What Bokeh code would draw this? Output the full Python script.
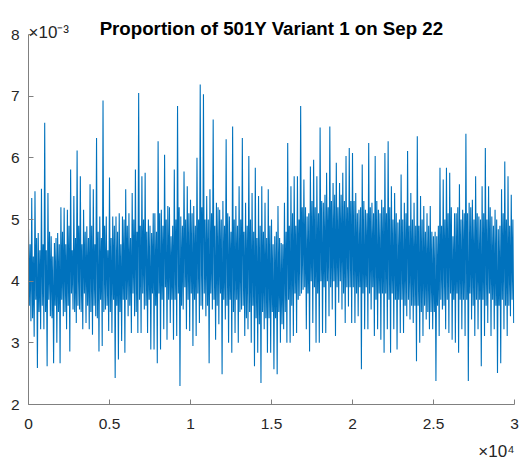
import numpy as np
from bokeh.plotting import figure
from bokeh.models import Range1d, FixedTicker, Label, Title
from bokeh.embed import file_html
from bokeh.resources import INLINE

# ---- data (proportion, in units of 1e-3) ----
title_text = "Proportion of 501Y Variant 1 on Sep 22"
x_ticks = [0, 5000, 10000, 15000, 20000, 25000, 30000]
x_tick_labels = ["0", "0.5", "1", "1.5", "2", "2.5", "3"]
y_ticks = [2, 3, 4, 5, 6, 7, 8]
y_tick_labels = ["2", "3", "4", "5", "6", "7", "8"]
sample_step = 50  # samples between successive read-off points

# upper excursions (spike tops), one per 200-sample block
peak_high = [
    4.85, 5.35, 5.46, 4.78, 5.50, 6.57, 5.43, 4.73, 4.62, 4.78,
    5.20, 5.19, 5.16, 5.81, 5.38, 6.12, 5.70, 5.16, 4.89, 5.57,
    5.49, 6.32, 5.05, 6.93, 5.05, 5.68, 5.05, 5.05, 5.10, 5.05,
    5.49, 5.10, 5.43, 5.81, 7.05, 5.70, 5.76, 5.00, 4.78, 5.10,
    6.27, 5.16, 6.05, 5.22, 4.73, 5.81, 6.84, 5.05, 5.78, 5.54,
    5.32, 5.22, 6.00, 7.19, 7.03, 5.38, 5.49, 6.62, 5.27, 5.16,
    5.30, 6.30, 5.05, 6.51, 5.22, 5.54, 6.32, 5.27, 6.03, 5.43,
    5.84, 5.38, 5.54, 5.27, 5.49, 5.00, 4.73, 5.22, 4.62, 5.27,
    6.24, 5.54, 5.70, 5.70, 6.84, 5.65, 5.05, 5.86, 5.97, 5.70,
    6.49, 5.27, 5.76, 6.51, 5.59, 5.92, 5.59, 5.76, 6.03, 6.16,
    6.08, 5.43, 5.16, 5.89, 5.16, 6.24, 5.27, 6.03, 5.16, 5.32,
    6.08, 6.27, 5.54, 5.43, 4.95, 5.73, 5.27, 6.11, 5.43, 5.27,
    6.35, 5.38, 5.22, 5.10, 5.22, 4.73, 4.73, 5.84, 5.65, 5.84,
    5.76, 4.73, 5.10, 5.57, 5.16, 6.39, 5.27, 5.32, 5.70, 5.05,
    5.54, 6.16, 5.54, 5.05, 5.16, 4.84, 5.49, 5.94, 5.70, 5.40,
]
# lower edge of the dense band, one per block
band_lower = [
    3.6, 3.4, 3.7, 3.5, 3.6, 3.5, 3.7, 3.4, 3.6, 3.5,
    3.7, 3.5, 3.6, 3.8, 3.5, 3.6, 3.5, 3.8, 3.6, 3.5,
    3.6, 3.4, 3.7, 3.5, 3.6, 3.5, 3.7, 3.6, 3.5, 3.7,
    3.7, 3.6, 3.8, 3.5, 3.7, 3.8, 3.6, 3.7, 3.8, 3.6,
    3.8, 3.7, 3.9, 3.7, 3.7, 3.7, 3.8, 3.6, 3.9, 3.7,
    3.8, 3.7, 3.8, 3.6, 3.8, 3.6, 3.8, 3.7, 3.6, 3.8,
    3.7, 3.6, 3.7, 3.5, 3.7, 3.5, 3.6, 3.4, 3.5, 3.6,
    3.4, 3.3, 3.5, 3.4, 3.4, 3.5, 3.4, 3.5, 3.3, 3.5,
    3.7, 3.6, 3.8, 3.7, 3.8, 3.9, 3.8, 4.0, 3.9, 3.8,
    4.0, 3.9, 4.0, 3.9, 4.0, 3.9, 4.0, 3.8, 3.9, 3.9,
    3.9, 3.8, 3.9, 3.8, 3.9, 3.8, 3.9, 3.7, 3.8, 3.8,
    3.8, 3.7, 3.8, 3.7, 3.7, 3.7, 3.6, 3.7, 3.6, 3.6,
    3.6, 3.5, 3.6, 3.5, 3.5, 3.5, 3.6, 3.7, 3.6, 3.7,
    3.8, 3.7, 3.8, 3.7, 3.7, 3.7, 3.8, 3.6, 3.7, 3.7,
    3.7, 3.6, 3.8, 3.7, 3.6, 3.6, 3.7, 3.6, 3.6, 3.7,
]
# upper edge of the dense band, one per block
band_upper = [
    4.6, 4.4, 4.7, 4.5, 4.6, 4.5, 4.8, 4.4, 4.7, 4.6,
    4.8, 4.6, 4.9, 4.5, 4.7, 4.9, 4.6, 4.8, 4.7, 4.9,
    4.6, 4.8, 4.7, 4.9, 4.5, 4.7, 4.9, 4.8, 4.6, 5.0,
    4.9, 4.7, 5.0, 4.8, 4.9, 5.0, 4.8, 4.9, 5.1, 4.8,
    5.1, 4.9, 5.0, 5.2, 4.9, 5.0, 5.2, 4.9, 5.0, 5.1,
    5.1, 4.9, 5.0, 5.2, 5.0, 5.0, 5.1, 4.9, 5.2, 5.0,
    4.9, 5.1, 4.8, 5.0, 4.9, 5.0, 4.8, 4.9, 5.0, 4.8,
    4.7, 4.9, 4.8, 4.7, 4.9, 4.6, 4.8, 4.7, 4.6, 4.8,
    4.9, 5.1, 4.9, 5.0, 5.2, 5.2, 5.1, 5.3, 5.2, 5.1,
    5.3, 5.4, 5.2, 5.3, 5.4, 5.2, 5.4, 5.3, 5.2, 5.3,
    5.3, 5.1, 5.2, 5.3, 5.1, 5.2, 5.1, 5.3, 5.1, 5.2,
    5.1, 5.2, 5.0, 5.1, 5.0, 5.0, 5.1, 4.9, 5.0, 4.9,
    4.9, 5.0, 4.8, 4.9, 4.8, 4.8, 4.9, 4.9, 5.0, 5.1,
    5.2, 5.1, 5.2, 5.0, 5.1, 5.1, 5.2, 5.0, 5.1, 5.0,
    5.1, 5.0, 5.2, 4.9, 5.0, 4.9, 5.1, 5.0, 4.9, 5.0,
]
# lower excursions (spike bottoms), one per block
trough_low = [
    3.35, 3.10, 2.59, 3.22, 3.22, 2.62, 3.43, 2.67, 3.00, 2.67,
    3.43, 3.22, 2.86, 3.54, 3.32, 3.54, 3.22, 3.32, 3.22, 3.13,
    3.43, 2.86, 2.95, 3.54, 3.19, 3.16, 2.43, 2.73, 3.03, 2.84,
    3.43, 3.16, 3.43, 3.16, 3.16, 3.54, 3.16, 2.89, 2.89, 2.67,
    2.89, 3.22, 3.05, 3.32, 3.05, 3.11, 2.30, 3.54, 3.22, 3.19,
    2.95, 3.11, 3.32, 3.54, 3.43, 2.67, 3.54, 3.05, 3.30, 2.49,
    3.38, 3.00, 2.84, 3.16, 3.00, 3.54, 3.11, 3.22, 3.00, 2.62,
    2.84, 2.35, 3.22, 2.84, 2.84, 2.57, 2.49, 3.00, 3.22, 3.00,
    3.00, 3.11, 3.16, 3.76, 3.86, 3.22, 2.86, 3.32, 3.00, 3.00,
    3.16, 3.16, 3.43, 3.54, 3.11, 3.65, 3.54, 3.32, 3.59, 3.32,
    3.32, 3.43, 2.57, 3.22, 3.22, 3.54, 3.11, 3.22, 3.05, 2.84,
    3.22, 2.84, 3.22, 2.89, 3.16, 3.16, 3.43, 3.38, 3.32, 2.70,
    3.00, 3.11, 3.38, 3.22, 3.22, 2.38, 3.11, 3.54, 3.22, 3.16,
    3.05, 3.00, 2.84, 3.22, 3.11, 2.38, 3.38, 3.11, 3.22, 2.62,
    3.11, 3.32, 3.11, 3.22, 2.51, 2.67, 3.22, 3.11, 3.43, 3.32,
]

values = [v for quad in zip(peak_high, band_lower, band_upper, trough_low) for v in quad]
samples = np.arange(len(values)) * sample_step

FONT = "Liberation Sans"
TXT = "#262626"
AX = "#808080"
PX_PER_UNIT = 370 / 6.0
FRAME_H = 402

p = figure(frame_width=486, frame_height=FRAME_H, output_backend="svg",
           toolbar_location=None,
           x_range=Range1d(0, 30000),
           y_range=Range1d(2, 2 + FRAME_H / PX_PER_UNIT),
           min_border_left=28, min_border_right=6,
           min_border_top=2, min_border_bottom=60)
p.outline_line_color = None
p.xgrid.visible = False
p.ygrid.visible = False
p.background_fill_color = "white"
p.border_fill_color = "white"

p.line(samples, values, line_color="#0072BD", line_width=1.1)

for ax, ticks, labels in ((p.xaxis[0], x_ticks, x_tick_labels),
                          (p.yaxis[0], y_ticks, y_tick_labels)):
    ax.ticker = FixedTicker(ticks=ticks)
    ax.major_label_overrides = {t: l for t, l in zip(ticks, labels)}
    ax.minor_tick_line_color = None
    ax.major_tick_in = 5
    ax.major_tick_out = 0
    ax.major_tick_line_color = AX
    ax.axis_line_color = AX
    ax.axis_line_width = 1
    ax.major_label_text_font = FONT
    ax.major_label_text_font_size = "15.5px"
    ax.major_label_text_color = TXT
p.yaxis.bounds = (2, 8)
p.xaxis.major_label_standoff = 14
p.yaxis.major_label_standoff = 9

p.add_layout(Label(x=15000, y=8, text=title_text, text_align="center",
                   text_baseline="alphabetic", y_offset=6,
                   text_font=FONT, text_font_size="18.7px", text_font_style="bold",
                   text_color="#000000"))
p.add_layout(Label(x=0, y=8, text="×10⁻³", text_align="left",
                   text_baseline="alphabetic", y_offset=2.5,
                   text_font=FONT, text_font_size="17px", text_color=TXT))
p.add_layout(Title(text="×10⁴", align="right", standoff=16,
                   text_font=FONT, text_font_size="17px",
                   text_font_style="normal", text_color=TXT), "below")

open("out.html", "w").write(file_html(p, INLINE))
